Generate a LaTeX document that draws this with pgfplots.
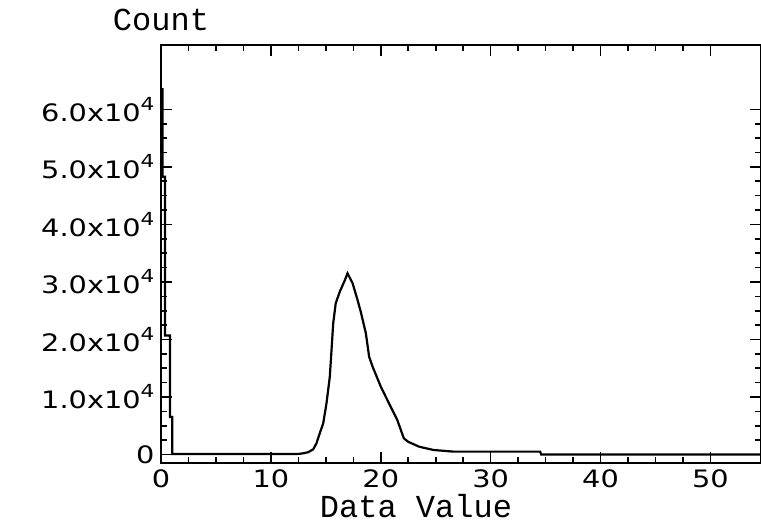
\documentclass[border=0pt]{standalone}
\usepackage{fontspec}
\setmainfont{DejaVu Sans}
\newfontfamily\monofont{Liberation Mono}
\newfontfamily\tickfont[FakeStretch=1.2]{DejaVu Sans}
\usepackage{pgfplots}
\pgfplotsset{compat=1.18}
\newcommand{\tl}{\tickfont\fontsize{24}{24}\selectfont}
\newcommand{\sci}[1]{#1x10\raisebox{0.45em}{\fontsize{18}{18}\selectfont 4}}
\begin{document}
\begin{tikzpicture}
\useasboundingbox (-161pt,-63pt) rectangle (600pt,463pt);
\begin{axis}[
  scale only axis, width=600pt, height=418pt,
  xmin=0, xmax=54.6, ymin=-1480, ymax=71200,
  scaled y ticks=false, scaled x ticks=false,
  xtick={0,10,20,30,40,50}, xticklabels={0,10,20,30,40,50},
  ytick={0,10000,20000,30000,40000,50000,60000},
  yticklabels={0,\sci{1.0},\sci{2.0},\sci{3.0},\sci{4.0},\sci{5.0},\sci{6.0}},
  minor x tick num=3, minor y tick num=3,
  tick align=inside, major tick length=11pt, minor tick length=6pt,
  every tick/.style={black, line width=1.6pt},
  axis line style={black, line width=2.6pt},
  ticklabel style={font=\tl},
  xticklabel style={yshift=-3pt},
  yticklabel style={xshift=-3pt},
  xlabel={Data Value},
  xlabel style={font=\monofont\fontsize{32}{32}\selectfont, at={(ticklabel cs:0.425)}, anchor=north, yshift=-3pt, inner sep=0pt},
  title={Count},
  title style={font=\monofont\fontsize{32}{32}\selectfont, at={(rel axis cs:0,1)}, anchor=base, yshift=8pt, inner sep=0pt},
  clip=false,
]
\addplot[black, line width=2.2pt, line join=miter] coordinates {
(0,63500) (0.15,63500) (0.15,48300) (0.36,48300) (0.36,20700) (0.82,20700)
(0.82,6500) (1.03,6500) (1.03,100) (12.5,100)
(12.94,200) (13.4,400) (13.85,900) (14.15,1950) (14.45,3700) (14.76,5400)
(15.06,8900) (15.36,13500) (15.52,18200) (15.67,22800) (15.9,26300)
(16.27,28300) (16.73,30300) (16.97,31500)
(17.43,29800) (17.88,26900) (18.18,24800) (18.64,21100) (18.94,17000)
(19.25,15300) (20.0,11800) (20.9,8300) (21.5,6000) (22.1,2800) (22.5,2200)
(23.5,1350) (24.8,780) (26.6,500) (34.5,500) (34.6,0) (54.6,0)
};
\end{axis}
\end{tikzpicture}
\end{document}
